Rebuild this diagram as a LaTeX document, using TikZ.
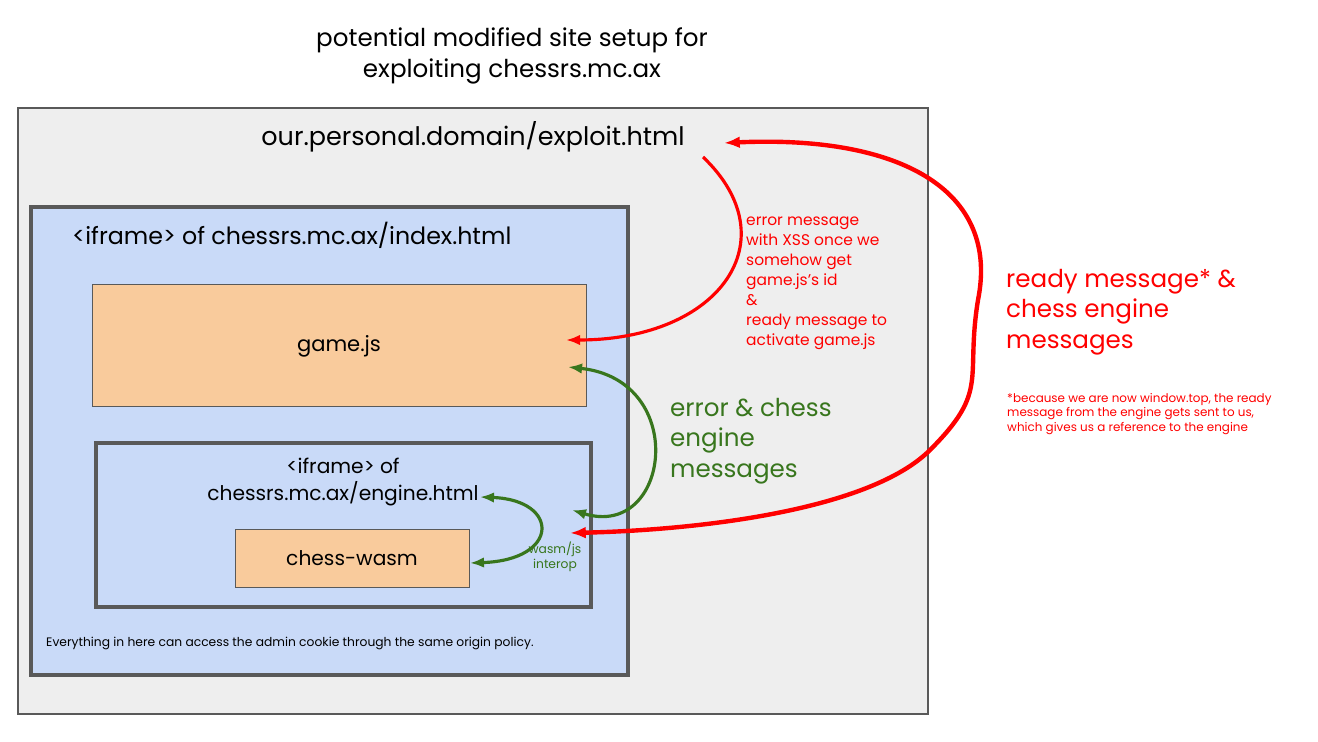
\documentclass[tikz,border=0pt]{standalone}
\usepackage{fontspec}
\setmainfont{Poppins}
\usetikzlibrary{arrows.meta,positioning}
\definecolor{boxgray}{HTML}{EEEEEE}
\definecolor{edgegray}{HTML}{595959}
\definecolor{frameblue}{HTML}{C9DAF8}
\definecolor{jsorange}{HTML}{F9CB9C}
\definecolor{msggreen}{HTML}{38761D}
\definecolor{msgred}{HTML}{FF0000}
\tikzset{
  frame/.style={draw=edgegray,line width=2pt,fill=frameblue},
  script/.style={draw=edgegray,line width=0.5pt,fill=jsorange},
  garrow/.style={msggreen,line width=1.8pt,{Latex[length=8pt]}-{Latex[length=8pt]}},
  rarrow/.style={msgred,line width=1.8pt,-{Latex[length=8pt]}},
}
\begin{document}
\begin{tikzpicture}[x=0.02cm,y=-0.02cm]
\useasboundingbox (0,0) rectangle (1318,742);
% boxes
\draw[fill=boxgray,draw=edgegray,line width=0.6pt] (18,108) rectangle (928,714);
\draw[frame] (31,207) rectangle (628,675);
\draw[script] (92,284) rectangle (586,406);
\draw[frame] (96,443) rectangle (591,607);
\draw[script] (235,529) rectangle (469,587);
% texts
\node[align=center,font=\fontsize{14}{18}\selectfont] (title) at (512,56)
  {potential modified site setup for\\exploiting chessrs.mc.ax};
\node[font=\fontsize{14.5}{18}\selectfont] (site) at (473,137) {our.personal.domain/exploit.html};
\node[anchor=west,font=\fontsize{13.5}{17}\selectfont] (index) at (66,235) {<iframe> of chessrs.mc.ax/index.html};
\node[font=\fontsize{12}{15}\selectfont] (game) at (339,346) {game.js};
\node[align=center,font=\fontsize{11.5}{15}\selectfont] (engine) at (343,482) {<iframe> of\\chessrs.mc.ax/engine.html};
\node[font=\fontsize{11.5}{15}\selectfont] (wasm) at (352,558) {chess-wasm};
\node[anchor=west,font=\fontsize{7}{9}\selectfont] (policy) at (40,643)
  {Everything in here can access the admin cookie through the same origin policy.};
\node[align=center,text=msggreen,font=\fontsize{7}{8.5}\selectfont] (interop) at (555,557) {wasm/js\\interop};
\node[anchor=west,align=left,text=msggreen,font=\fontsize{14}{17.5}\selectfont] (gmsg) at (664,441)
  {error \& chess\\engine\\messages};
\node[anchor=west,align=left,text=msggreen!0!msgred,font=\fontsize{8.8}{11.4}\selectfont] (xss) at (740,283)
  {error message\\with XSS once we\\somehow get\\game.js’s id\\\&\\ready message to\\activate game.js};
\node[anchor=west,align=left,text=msgred,font=\fontsize{14}{17.5}\selectfont] (rmsg) at (1000,312)
  {ready message* \&\\chess engine\\messages};
\node[anchor=west,align=left,text=msgred,font=\fontsize{6.8}{8.2}\selectfont] (note) at (1001,414)
  {*because we are now window.top, the ready\\message from the engine gets sent to us,\\which gives us a reference to the engine};
% connectors
\coordinate (wasmR) at (470,563);
\coordinate (engR) at (480,497);
\coordinate (gameR) at (568,367);
\coordinate (ifrR) at (572,510);
\coordinate (xssS) at (703,157);
\coordinate (gameT) at (566,340);
\coordinate (siteR) at (724,143);
\coordinate (ifrR2) at (570,533);
\draw[garrow] (wasmR) .. controls (560,560) and (560,500) .. (engR);
\draw[garrow] (gameR) .. controls (690,380) and (670,540) .. (ifrR);
\draw[rarrow] (xssS) .. controls (790,240) and (720,340) .. (gameT);
\draw[msgred,line width=2.5pt,{Latex[length=9pt]}-{Latex[length=9pt]}] (siteR)
  .. controls (900,135) and (1000,190) .. (978,300)
  .. controls (965,380) and (990,390) .. (930,450)
  .. controls (870,510) and (700,530) .. (ifrR2);
\end{tikzpicture}
\end{document}
